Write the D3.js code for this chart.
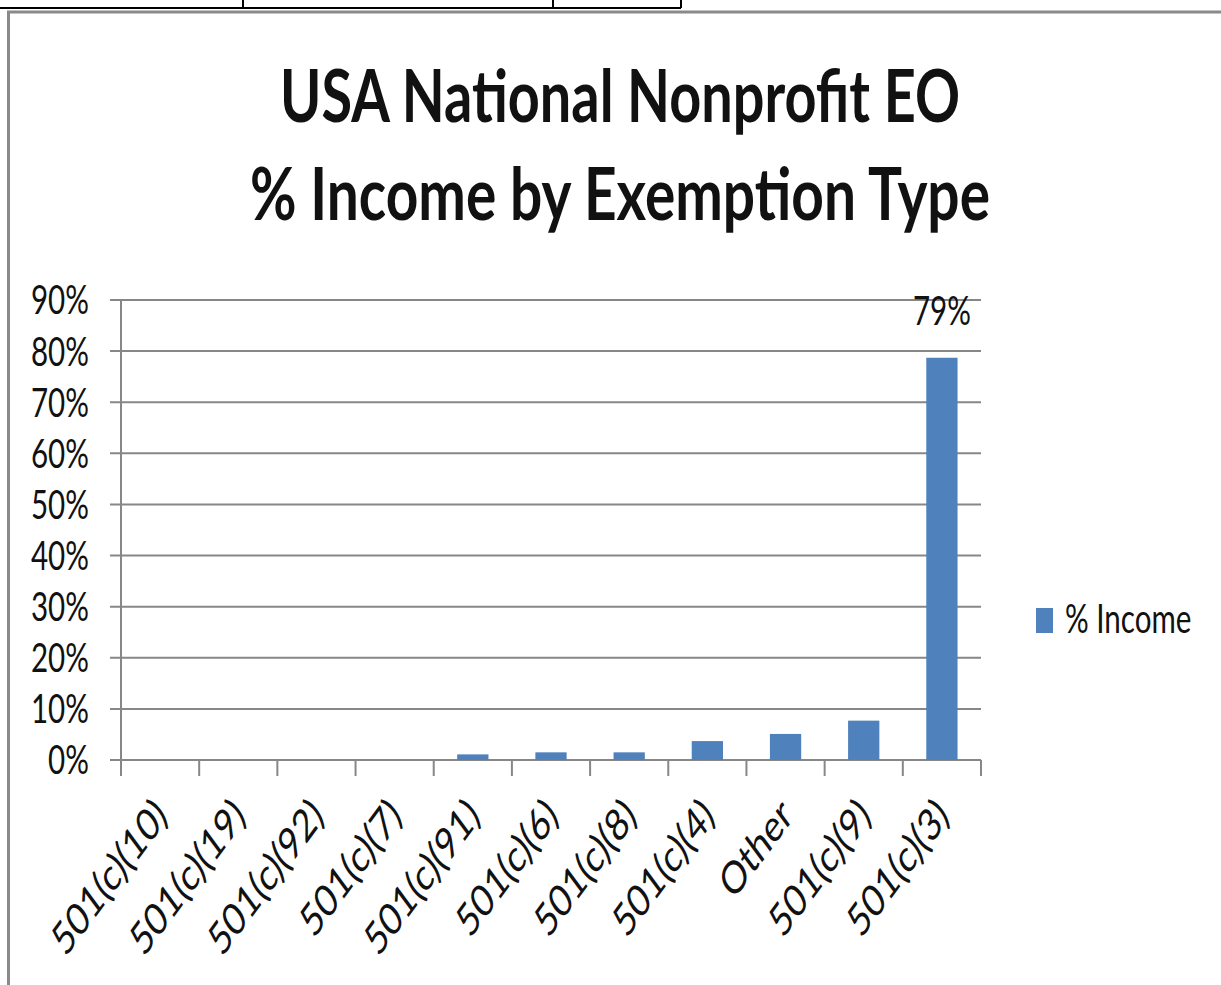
<!DOCTYPE html>
<html>
<head>
<meta charset="utf-8">
<script src="https://cdn.jsdelivr.net/npm/d3@7"></script>
<style>
  html, body { margin: 0; padding: 0; background: #fff; }
  svg { display: block; }
  text { font-family: Lato, "Open Sans", sans-serif; fill: #111; }
</style>
</head>
<body>
<svg id="chart" width="1221" height="985"></svg>
<script>
// ---- data ----
const categories = ['501(c)(10)', '501(c)(19)', '501(c)(92)', '501(c)(7)', '501(c)(91)',
                    '501(c)(6)', '501(c)(8)', '501(c)(4)', 'Other', '501(c)(9)', '501(c)(3)'];
const income = [0, 0, 0, 0, 0.011, 0.015, 0.015, 0.037, 0.051, 0.077, 0.787];
const yTicks = [0, 0.1, 0.2, 0.3, 0.4, 0.5, 0.6, 0.7, 0.8, 0.9];
const titleLines = ['USA National Nonprofit EO', '% Income by Exemption Type'];
const seriesName = '% Income';
const labelled = ['501(c)(3)'];

const SX = 0.74;                        // the source picture is squeezed horizontally
const vx = px => px / SX;               // pixel x -> virtual x
const GRID = '#878787', BAR = '#4f81bd';

const svg = d3.select('#chart');

// table fragment above the chart
svg.append('line').attr('x1', 0).attr('x2', 681).attr('y1', 8).attr('y2', 8)
  .attr('stroke', '#000').attr('stroke-width', 2);
[243, 553, 681].forEach(x => svg.append('line').attr('x1', x).attr('x2', x)
  .attr('y1', 0).attr('y2', 8).attr('stroke', '#000').attr('stroke-width', 2));

// chart frame
svg.append('rect').attr('x', 8.5).attr('y', 12).attr('width', 1240).attr('height', 1000)
  .attr('fill', '#fff').attr('stroke', '#8a8a8a').attr('stroke-width', 3);

const g = svg.append('g').attr('transform', `scale(${SX},1)`);

// title
g.selectAll('text.title').data(titleLines).join('text').attr('class', 'title')
  .attr('x', vx(620)).attr('y', (d, i) => 122 + i * 98)
  .attr('text-anchor', 'middle').style('font-weight', 700).style('font-size', '72px')
  .attr('textLength', (d, i) => vx(i ? 740 : 680)).attr('lengthAdjust', 'spacingAndGlyphs')
  .text(d => d);

// scales
const x = d3.scaleBand(categories, [vx(121), vx(981)]).paddingInner(0.6).paddingOuter(0.3);
const y = d3.scaleLinear([0, 0.9], [760, 300]);
const step = x.step();
const bounds = d3.range(categories.length + 1).map(i => vx(121) + i * step);

// gridlines + left ticks
g.append('g').selectAll('line').data(yTicks).join('line')
  .attr('x1', vx(110)).attr('x2', vx(981)).attr('y1', d => y(d)).attr('y2', d => y(d))
  .attr('stroke', GRID).attr('stroke-width', 2);
g.append('line').attr('x1', vx(121)).attr('x2', vx(121)).attr('y1', y(0.9)).attr('y2', y(0))
  .attr('stroke', GRID).attr('stroke-width', 2).attr('vector-effect', 'non-scaling-stroke');

// y tick labels
g.append('g').selectAll('text').data(yTicks).join('text')
  .attr('x', vx(89)).attr('y', d => y(d)).attr('dy', '0.36em').attr('text-anchor', 'end')
  .style('font-size', '40px').text(d3.format('.0%'));

// x ticks at category boundaries
g.append('g').selectAll('line').data(bounds).join('line')
  .attr('x1', d => d).attr('x2', d => d).attr('y1', y(0)).attr('y2', y(0) + 16)
  .attr('stroke', GRID).attr('stroke-width', 2).attr('vector-effect', 'non-scaling-stroke');

// bars
g.append('g').selectAll('rect').data(categories).join('rect')
  .attr('x', c => x(c)).attr('width', x.bandwidth())
  .attr('y', (c, i) => y(income[i])).attr('height', (c, i) => y(0) - y(income[i]))
  .attr('fill', BAR);

// data label
g.append('g').selectAll('text').data(labelled).join('text')
  .attr('x', c => x(c) + x.bandwidth() / 2)
  .attr('y', c => y(income[categories.indexOf(c)]) - 33)
  .attr('text-anchor', 'middle').style('font-size', '40px')
  .text(c => d3.format('.0%')(income[categories.indexOf(c)]));

// rotated category labels
g.append('g').selectAll('text').data(categories).join('text')
  .attr('transform', c => `translate(${x(c) + x.bandwidth() / 2 + vx(9)},818) rotate(-45)`)
  .attr('text-anchor', 'end').style('font-size', '45px').text(c => c);

// legend
g.append('rect').attr('x', vx(1036)).attr('y', 608).attr('width', vx(17)).attr('height', 25)
  .attr('fill', BAR);
g.append('text').attr('x', vx(1065)).attr('y', 633).style('font-size', '40px').text(seriesName);
</script>
</body>
</html>
